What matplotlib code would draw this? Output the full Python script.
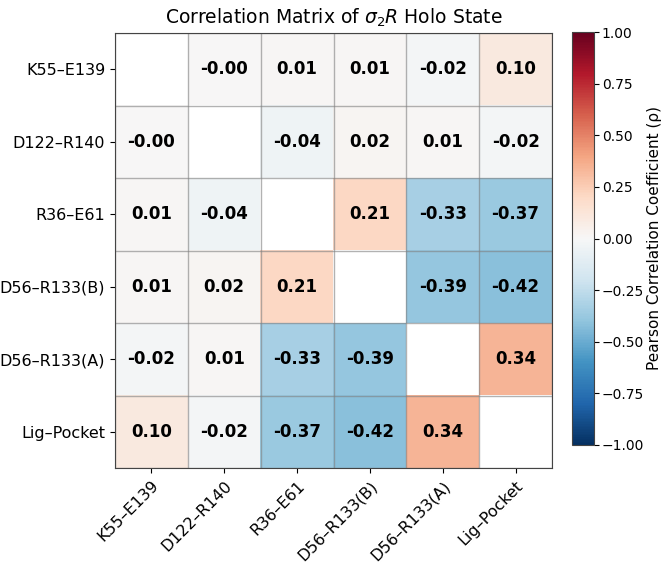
import numpy as np
import matplotlib
matplotlib.use("Agg")
import matplotlib.pyplot as plt

labels = ["K55–E139", "D122–R140", "R36–E61", "D56–R133(B)", "D56–R133(A)", "Lig–Pocket"]

# rows of the correlation matrix (diagonal is masked)
k55 = [1.00, -0.00, 0.01, 0.01, -0.02, 0.10]
d122 = [-0.00, 1.00, -0.04, 0.02, 0.01, -0.02]
r36 = [0.01, -0.04, 1.00, 0.21, -0.33, -0.37]
d56b = [0.01, 0.02, 0.21, 1.00, -0.39, -0.42]
d56a = [-0.02, 0.01, -0.33, -0.39, 1.00, 0.34]
lig = [0.10, -0.02, -0.37, -0.42, 0.34, 1.00]


def main():
    corr = np.array([k55, d122, r36, d56b, d56a, lig])
    n = len(labels)
    mask = np.eye(n, dtype=bool)
    data = np.ma.masked_array(corr, mask=mask)

    fig = plt.figure(figsize=(6.66, 5.63), dpi=100)
    ax = fig.add_axes([115 / 666, 1 - 468 / 563, 437 / 666, 435 / 563])
    cax = fig.add_axes([572 / 666, 1 - 445 / 563, 22 / 666, 413 / 563])

    cmap = plt.get_cmap("RdBu_r").copy()
    cmap.set_bad("white")
    im = ax.imshow(data, cmap=cmap, vmin=-1, vmax=1, aspect="auto")

    for i in range(n):
        for j in range(n):
            if i == j:
                continue
            ax.text(j, i, f"{corr[i, j]:.2f}", ha="center", va="center",
                    fontsize=12, fontweight="bold", color="black")

    ax.set_xticks(np.arange(n))
    ax.set_yticks(np.arange(n))
    ax.set_xticklabels(labels, rotation=45, ha="right", rotation_mode="anchor", fontsize=11.5)
    ax.set_yticklabels(labels, fontsize=11.5)
    ax.set_xticks(np.arange(n + 1) - 0.5, minor=True)
    ax.set_yticks(np.arange(n + 1) - 0.5, minor=True)
    ax.grid(which="minor", color="gray", linewidth=1, alpha=0.6)
    ax.tick_params(which="minor", length=0)
    for sp in ax.spines.values():
        sp.set_color("#444444")
    ax.set_title(r"Correlation Matrix of $\sigma_2R$ Holo State", fontsize=13.5, pad=7)

    cb = fig.colorbar(im, cax=cax)
    cb.set_ticks(np.linspace(-1, 1, 9))
    cb.ax.tick_params(labelsize=10, pad=2)
    cb.set_label("Pearson Correlation Coefficient (ρ)", fontsize=11, labelpad=2)
    cb.outline.set_edgecolor("#444444")

    plt.savefig("out.png", dpi=100)


if __name__ == "__main__":
    main()
